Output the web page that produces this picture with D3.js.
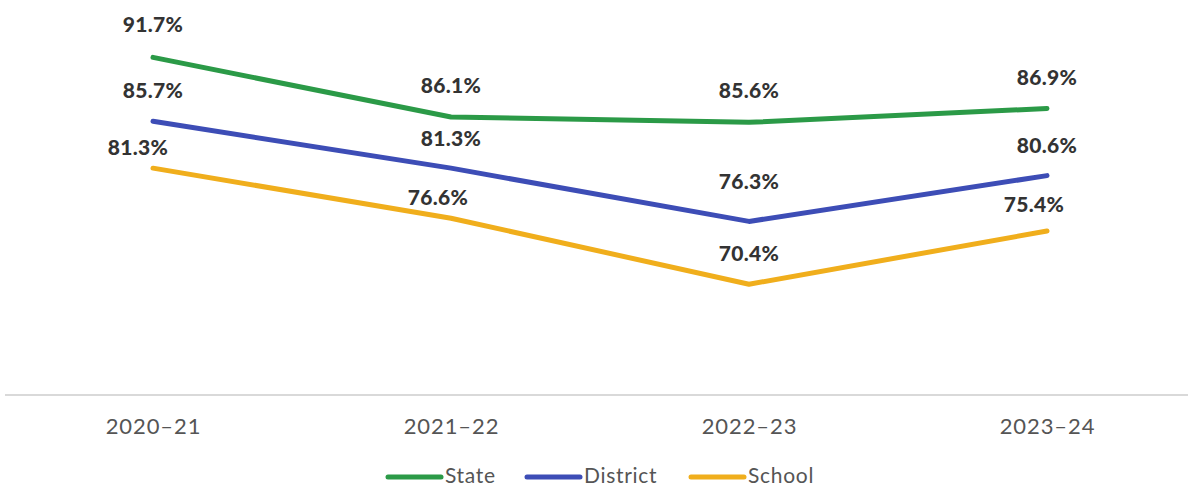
<!DOCTYPE html>
<html>
<head>
<meta charset="utf-8">
<script src="https://cdn.jsdelivr.net/npm/d3@7"></script>
<style>
  html, body { margin: 0; padding: 0; background: #fff; }
  svg { display: block; }
</style>
</head>
<body>
<svg id="chart" width="1188" height="489"></svg>
<script>
// ---- Data ----
const categories = ["2020–21", "2021–22", "2022–23", "2023–24"];
const stateValues = [91.7, 86.1, 85.6, 86.9];
const districtValues = [85.7, 81.3, 76.3, 80.6];
const schoolValues = [81.3, 76.6, 70.4, 75.4];
const seriesNames = ["State", "District", "School"];

// ---- Layout / style (not data) ----
const colors = { State: "#2b9a47", District: "#3d4db6", School: "#f0ae1c" };
// label offsets relative to each point [dx, dy to baseline]
const labelOffsets = {
  State:    [[0, -25], [0, -24], [0, -24], [0, -24]],
  District: [[0, -23], [0, -22], [0, -32], [0, -23]],
  School:   [[-15, -13], [-13, -13], [0, -23], [-13, -19]]
};

const series = [
  { name: "State", values: stateValues },
  { name: "District", values: districtValues },
  { name: "School", values: schoolValues }
];

const svg = d3.select("#chart");

const x = d3.scalePoint().domain(categories).range([153, 1047]);
const y = d3.scaleLinear().domain([60, 100]).range([395, -31]);

// baseline
svg.append("line")
  .attr("x1", 5).attr("x2", 1188)
  .attr("y1", y(60)).attr("y2", y(60))
  .attr("stroke", "#d9d9d9").attr("stroke-width", 2);

// x axis labels
const xAxis = d3.axisBottom(x).tickSize(0).tickPadding(0);
const gx = svg.append("g").attr("transform", `translate(0, ${y(60)})`).call(xAxis);
gx.select(".domain").remove();
gx.selectAll("text")
  .attr("y", 39).attr("dy", 0)
  .attr("font-family", "Lato, 'Open Sans', sans-serif")
  .attr("font-size", 22)
  .attr("letter-spacing", "0.9px")
  .attr("fill", "#555");

const line = d3.line()
  .x((d, i) => x(categories[i]))
  .y(d => y(d));

series.forEach(s => {
  svg.append("path")
    .datum(s.values)
    .attr("d", line)
    .attr("fill", "none")
    .attr("stroke", colors[s.name])
    .attr("stroke-width", 5)
    .attr("stroke-linecap", "round")
    .attr("stroke-linejoin", "round");
});

series.forEach(s => {
  svg.append("g").selectAll("text")
    .data(s.values)
    .join("text")
    .attr("x", (d, i) => x(categories[i]) + labelOffsets[s.name][i][0])
    .attr("y", (d, i) => y(d) + labelOffsets[s.name][i][1])
    .attr("text-anchor", "middle")
    .attr("font-family", "Lato, 'Open Sans', sans-serif")
    .attr("font-weight", 900)
    .attr("font-size", 21)
    .attr("letter-spacing", "0.3px")
    .attr("fill", "#333")
    .text(d => d.toFixed(1) + "%");
});

// legend
const legendItems = [
  { name: "State", x: 386 },
  { name: "District", x: 525 },
  { name: "School", x: 689 }
];
const lg = svg.append("g");
legendItems.forEach(it => {
  lg.append("line")
    .attr("x1", it.x + 2).attr("x2", it.x + 55)
    .attr("y1", 477).attr("y2", 477)
    .attr("stroke", colors[it.name])
    .attr("stroke-width", 5)
    .attr("stroke-linecap", "round");
  lg.append("text")
    .attr("x", it.x + 59).attr("y", 483)
    .attr("font-family", "Lato, 'Open Sans', sans-serif")
    .attr("font-size", 21)
    .attr("letter-spacing", "0.7px")
    .attr("fill", "#555")
    .text(it.name);
});
</script>
</body>
</html>
